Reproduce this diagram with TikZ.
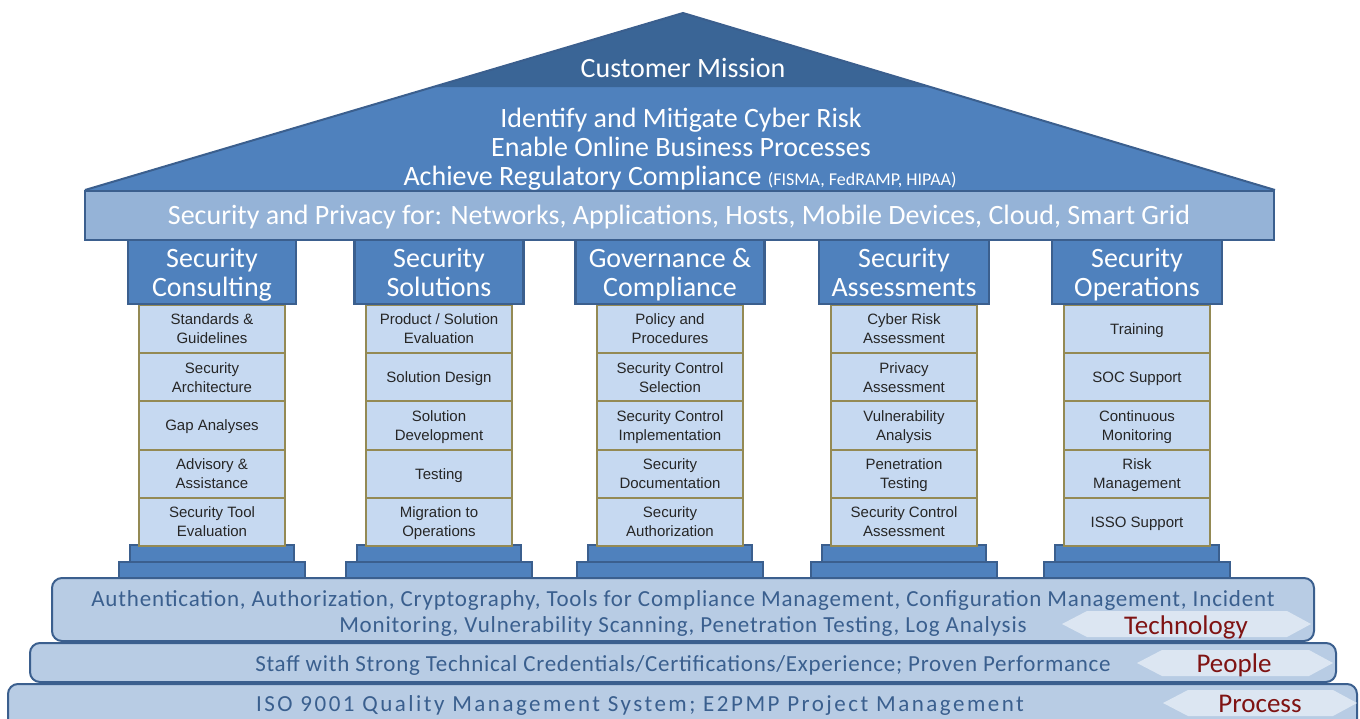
\documentclass[tikz,border=0pt]{standalone}
\usepackage{fontspec}
\setmainfont{Carlito}
\newfontfamily\cellfont{Liberation Sans}
\newfontfamily\fndfont[LetterSpace=3.6]{Carlito}
\newfontfamily\fndmidfont[LetterSpace=3.2]{Carlito}
\newfontfamily\fndwidefont[LetterSpace=10.9]{Carlito}
\definecolor{roofblue}{HTML}{4F81BD}
\definecolor{roofdark}{HTML}{3A6596}
\definecolor{edgeblue}{HTML}{3B5F8E}
\definecolor{beamblue}{HTML}{95B3D7}
\definecolor{cellblue}{HTML}{C6D9F1}
\definecolor{olivegold}{HTML}{948A54}
\definecolor{slabblue}{HTML}{B8CCE4}
\definecolor{tagfill}{HTML}{DCE6F2}
\definecolor{fndblue}{HTML}{3A5F8E}
\definecolor{tagred}{HTML}{7F1313}
\newcommand\pillarat[9]{%
  \draw[stepshape] ({#1-93},562) rectangle ({#1+93},578);
  \draw[stepshape] ({#1-82},545) rectangle ({#1+82},562);
  \foreach \t [count=\i from 0] in {{#4},{#5},{#6},{#7},{#8}} {
    \draw[cellshape] ({#1-73},{305+48.2*\i}) rectangle ({#1+73},{305+48.2*(\i+1)});
    \node[celltext] (#9-\i) at (#1,{330.6+48.2*\i}) {\strut\t\strut};
  }
  \draw[capshape] ({#1-#2},240) rectangle ({#1+#2},304);
  \node[captext] (#9-cap) at (#1,275.7) {\strut#3\strut};
}
\begin{document}
\begin{tikzpicture}[x=0.5pt,y=-0.5pt,
  roofshape/.style={fill=roofblue},
  roofedge/.style={draw=edgeblue, line width=1pt, line join=miter},
  bandshape/.style={fill=roofdark},
  beamshape/.style={fill=beamblue, draw=edgeblue, line width=1.1pt},
  capshape/.style={fill=roofblue, draw=edgeblue, line width=1.1pt},
  cellshape/.style={fill=cellblue, draw=olivegold, line width=1pt},
  stepshape/.style={fill=roofblue, draw=edgeblue, line width=1pt},
  slabshape/.style={fill=slabblue, draw=edgeblue, line width=1pt, rounded corners=5pt},
  tagshape/.style={fill=tagfill},
  rooftext/.style={text=white, inner sep=0pt, font=\fontsize{14}{16}\selectfont},
  beamtext/.style={text=white, inner sep=0pt, font=\fontsize{14}{16}\selectfont},
  captext/.style={text=white, inner sep=0pt, align=center, font=\fontsize{14}{14.5}\selectfont},
  celltext/.style={text=black!85, inner sep=0pt, align=center, font=\cellfont\fontsize{7.5}{9.5}\selectfont},
  fndtext/.style={text=fndblue, inner sep=0pt, align=center, font=\fndfont\fontsize{11.5}{13}\selectfont},
  tagtext/.style={text=tagred, inner sep=0pt, font=\fontsize{13.5}{15}\selectfont}
]
\useasboundingbox (0,0) rectangle (1360,718);
% foundation slabs
\draw[slabshape] (8,684) rectangle (1357,740);
\draw[slabshape] (30,643) rectangle (1336,682);
\draw[slabshape] (52,578) rectangle (1314,641);
\fill[tagshape] (1062,624) -- (1087,611) -- (1287,611) -- (1311,624) -- (1287,637) -- (1087,637) -- cycle;
\fill[tagshape] (1137,663) -- (1162,650) -- (1309,650) -- (1333,663) -- (1309,676) -- (1162,676) -- cycle;
\fill[tagshape] (1163,703) -- (1188,690) -- (1333,690) -- (1357,703) -- (1333,716) -- (1188,716) -- cycle;
\node[fndtext] (tech) at (683,613) {Authentication, Authorization, Cryptography, Tools for Compliance Management, Configuration Management, Incident\\Monitoring, Vulnerability Scanning, Penetration Testing, Log Analysis};
\node[fndtext, font=\fndmidfont\fontsize{11.5}{13}\selectfont] (people) at (683,665) {Staff with Strong Technical Credentials/Certifications/Experience; Proven Performance};
\node[fndtext, font=\fndwidefont\fontsize{11.5}{13}\selectfont] (process) at (640,705) {ISO 9001 Quality Management System; E2PMP Project Management};
\node[tagtext] (techtag) at (1186,627) {Technology};
\node[tagtext] (peopletag) at (1234,665) {People};
\node[tagtext] (processtag) at (1260,704) {Process};
% roof
\fill[roofshape] (85,190) -- (683,13) -- (1275,190) -- cycle;
\fill[bandshape] (683,13) -- (433,87) -- (930,87) -- cycle;
\draw[roofedge] (85,190) -- (683,13) -- (1275,190);
\node[rooftext] (mission) at (683,68) {Customer Mission};
\node[rooftext] (goal1) at (681,120) {Identify and Mitigate Cyber Risk};
\node[rooftext] (goal2) at (681,147) {Enable Online Business Processes};
\node[rooftext] (goal3) at (680,178) {Achieve Regulatory Compliance {\fontsize{9}{10}\selectfont(FISMA, FedRAMP, HIPAA)}};
% beam
\draw[beamshape] (85,191) rectangle (1274,240);
\node[beamtext] (beam) at (679,217) {Security and Privacy for: Networks, Applications, Hosts, Mobile Devices, Cloud, Smart Grid};
% pillars
\pillarat{212}{84}{Security\\Consulting}{Standards \&\\Guidelines}{Security\\Architecture}{Gap Analyses}{Advisory \&\\Assistance}{Security Tool\\Evaluation}{pa}
\pillarat{439}{84.5}{Security\\Solutions}{Product / Solution\\Evaluation}{Solution Design}{Solution\\Development}{Testing}{Migration to\\Operations}{pb}
\pillarat{670}{94.5}{Governance \&\\Compliance}{Policy and\\Procedures}{Security Control\\Selection}{Security Control\\Implementation}{Security\\Documentation}{Security\\Authorization}{pc}
\pillarat{904}{85}{Security\\Assessments}{Cyber Risk\\Assessment}{Privacy\\Assessment}{Vulnerability\\Analysis}{Penetration\\Testing}{Security Control\\Assessment}{pd}
\pillarat{1137}{85}{Security\\Operations}{Training}{SOC Support}{Continuous\\Monitoring}{Risk\\Management}{ISSO Support}{pe}
\end{tikzpicture}
\end{document}
